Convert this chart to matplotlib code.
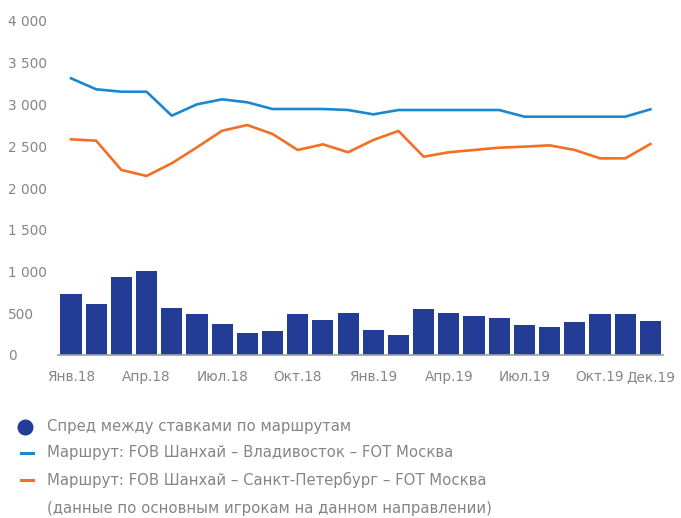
import matplotlib
matplotlib.use("Agg")
import matplotlib.pyplot as plt
from matplotlib.lines import Line2D
import numpy as np

plt.rcParams['font.family'] = ['DejaVu Sans']

months = ["Янв.18", "Фев.18", "Мар.18", "Апр.18", "Май.18", "Июн.18", "Июл.18", "Авг.18",
          "Сен.18", "Окт.18", "Ноя.18", "Дек.18", "Янв.19", "Фев.19", "Мар.19", "Апр.19",
          "Май.19", "Июн.19", "Июл.19", "Авг.19", "Сен.19", "Окт.19", "Ноя.19", "Дек.19"]
shown_ticks = ["Янв.18", "Апр.18", "Июл.18", "Окт.18", "Янв.19", "Апр.19", "Июл.19", "Окт.19", "Дек.19"]

spread = [730, 611, 934, 1006, 563, 491, 371, 263, 287, 491, 419, 503,
          299, 240, 551, 503, 467, 443, 359, 335, 395, 491, 491, 407]
vladivostok = [3314, 3182, 3153, 3153, 2866, 3002, 3062, 3026, 2946, 2946, 2946, 2934,
               2882, 2934, 2934, 2934, 2934, 2934, 2854, 2854, 2854, 2854, 2854, 2942]
spb = [2583, 2566, 2216, 2144, 2296, 2487, 2686, 2754, 2647, 2455, 2523, 2428,
       2575, 2683, 2375, 2428, 2455, 2483, 2495, 2511, 2455, 2355, 2355, 2527]

legend_labels = ["Спред между ставками по маршрутам",
                 "Маршрут: FOB Шанхай – Владивосток – FOT Москва",
                 "Маршрут: FOB Шанхай – Санкт-Петербург – FOT Москва",
                 "(данные по основным игрокам на данном направлении)"]

c_bar = "#233C95"
c_blue = "#1B87CF"
c_orange = "#F36F24"
c_text = "#858585"

W, H = 681, 518
fig = plt.figure(figsize=(W / 100, H / 100), dpi=100)
ax = fig.add_axes([58.4 / W, 1 - 355 / H, (663 - 58.4) / W, (355 - 21) / H])

x = np.arange(len(months))
ax.bar(x, spread, width=0.84, color=c_bar, zorder=2)
ax.plot(x, vladivostok, color=c_blue, lw=1.9, zorder=3)
ax.plot(x, spb, color=c_orange, lw=1.9, zorder=3)

ax.set_xlim(-0.5, len(months) - 0.5)
ax.set_ylim(0, 4000)
yt = np.arange(0, 4001, 500)
ax.set_yticks(yt)
ax.set_yticklabels([f"{v:,}".replace(",", " ") for v in yt])
for lab in ax.get_yticklabels():
    lab.set_horizontalalignment("left")
ax.tick_params(axis='y', length=0, pad=50.4 * 0.72, labelsize=9.8, labelcolor=c_text)

tick_pos = [months.index(m) for m in shown_ticks]
ax.set_xticks(tick_pos)
ax.set_xticklabels(shown_ticks)
ax.tick_params(axis='x', length=0, pad=11, labelsize=9.8, labelcolor=c_text)

for s in ["top", "right", "left"]:
    ax.spines[s].set_visible(False)
ax.spines["bottom"].set_color("#A0A0A0")
ax.spines["bottom"].set_linewidth(1.2)

# legend
rows_y = [427, 453, 480, 508]
fig.add_artist(Line2D([25 / W], [1 - rows_y[0] / H], marker='o', markersize=10.5,
                      color=c_bar, transform=fig.transFigure, linestyle='none'))
for yy, col in [(rows_y[1], c_blue), (rows_y[2], c_orange)]:
    fig.add_artist(Line2D([21 / W, 33 / W], [1 - yy / H, 1 - yy / H], color=col, lw=2.2,
                          transform=fig.transFigure))
for yy, lab in zip(rows_y, legend_labels):
    fig.text(47 / W, 1 - yy / H, lab, color=c_text, fontsize=10.7, va='center', ha='left')

fig.savefig("out.png", dpi=100)
